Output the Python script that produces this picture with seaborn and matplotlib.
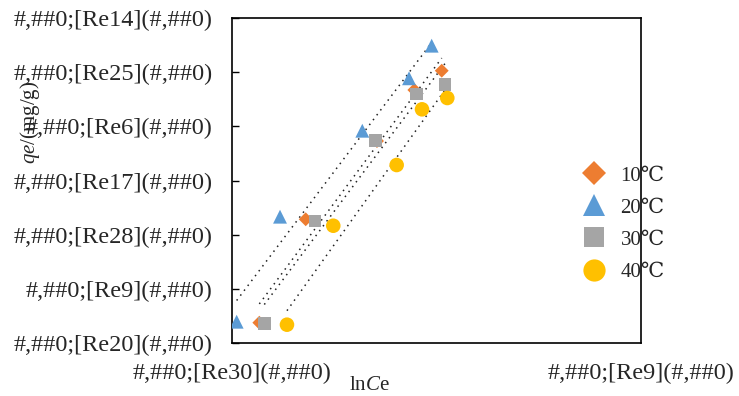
import numpy as np
import pandas as pd
import matplotlib
matplotlib.use("Agg")
import matplotlib.pyplot as plt
import seaborn as sns
from matplotlib.lines import Line2D

# ---- data (axis units: x 0..5, y 0..6) ----
series_names = ["10℃", "20℃", "30℃", "40℃"]
x_10 = [0.334, 0.901, 1.773, 2.229, 2.564]
y_10 = [0.375, 2.284, 3.729, 4.671, 5.027]
x_20 = [0.057, 0.587, 1.593, 2.164, 2.441]
y_20 = [0.393, 2.332, 3.919, 4.887, 5.489]
x_30 = [0.395, 1.015, 1.752, 2.253, 2.604]
y_30 = [0.364, 2.252, 3.735, 4.597, 4.776]
x_40 = [0.672, 1.238, 2.013, 2.323, 2.632]
y_40 = [0.338, 2.165, 3.286, 4.314, 4.523]

y_tick_labels = ["#,##0;[Re20](#,##0)", "#,##0;[Re9](#,##0)", "#,##0;[Re28](#,##0)",
                 "#,##0;[Re17](#,##0)", "#,##0;[Re6](#,##0)", "#,##0;[Re25](#,##0)",
                 "#,##0;[Re14](#,##0)"]
x_tick_labels = ["#,##0;[Re30](#,##0)", "#,##0;[Re9](#,##0)"]

colors = ["#ED7D31", "#5B9BD5", "#A5A5A5", "#FFC000"]
markers = ["D", "^", "s", "o"]
sizes = [50, 100, 85, 110]

sns.set_style("white")
plt.rcParams['font.family'] = ['Liberation Serif', 'DejaVu Serif']
plt.rcParams['mathtext.fontset'] = 'custom'
plt.rcParams['mathtext.rm'] = 'Liberation Serif'
plt.rcParams['mathtext.it'] = 'Liberation Serif:italic'

fig = plt.figure(figsize=(7.39, 3.96), dpi=100)
ax = fig.add_axes([232/739, 1-343/396, (641-232)/739, (343-18)/396])

xs = [x_10, x_20, x_30, x_40]
ys = [y_10, y_20, y_30, y_40]
for name, xv, yv in zip(series_names, xs, ys):
    df = pd.DataFrame({"x": xv, "y": yv})
    sns.regplot(data=df, x="x", y="y", ax=ax, scatter=False, ci=None, truncate=True,
                line_kws=dict(color="#222222", lw=1.1, linestyle=(0, (1, 3))))
for name, xv, yv, c, m, s in zip(series_names, xs, ys, colors, markers, sizes):
    df = pd.DataFrame({"x": xv, "y": yv})
    sns.scatterplot(data=df, x="x", y="y", ax=ax, color=c, marker=m, s=s,
                    edgecolor="none", zorder=3, legend=False)

ax.set_xlim(0, 5)
ax.set_ylim(0, 6)
ax.set_yticks(range(7))
ax.set_yticklabels(y_tick_labels, fontsize=17.5)
ax.set_xticks([0, 5])
ax.set_xticklabels(x_tick_labels, fontsize=17.5)
ax.tick_params(axis='y', direction='in', length=5, width=1, pad=14, left=True, color='black')
ax.tick_params(axis='x', length=0, pad=14)
ax.set_xlabel("")
ax.set_ylabel("")
for sp in ax.spines.values():
    sp.set_visible(True)
    sp.set_color("black")
    sp.set_linewidth(1.2)

fig.text(30/739, 1-122/396, r"$qe$/(mg/g)", rotation=90, ha="center", va="center", fontsize=15)
fig.text(369/739, 1-386/396, r"ln$C$e", ha="center", va="center", fontsize=15)

handles = [Line2D([], [], linestyle="none", marker=m, color=c, markersize=ms, markeredgewidth=0)
           for m, c, ms in zip(markers, colors, [12, 16, 15, 16])]
fig.legend(handles, series_names, loc="upper left", bbox_to_anchor=(584/739, 1-166/396),
           frameon=False, fontsize=15, handletextpad=0.75, labelspacing=0.6,
           handlelength=1.0, borderaxespad=0, borderpad=0)

fig.savefig("out.png", dpi=100)
